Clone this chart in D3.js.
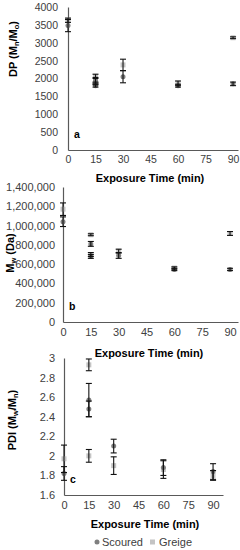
<!DOCTYPE html>
<html>
<head>
<meta charset="utf-8">
<script src="https://cdn.jsdelivr.net/npm/d3@7"></script>
<style>
  body { margin: 0; background: #fff; }
  svg { font-family: "Liberation Sans", Arial, sans-serif; }
  .tick text { fill: #404040; }
</style>
</head>
<body>
<div class="chart"></div>
<script>
// exposure times
var timeTicks = [0, 15, 30, 45, 60, 75, 90];

// panel a: DP
var dpScouredX = [0, 15, 15, 30, 60, 90];
var dpScouredY = [3480, 1950, 1800, 2050, 1800, 1850];
var dpScouredErr = [170, 80, 40, 170, 40, 50];
var dpGreigeX = [0, 15, 15, 30, 60, 90];
var dpGreigeY = [3630, 2060, 1860, 2380, 1870, 3140];
var dpGreigeErr = [60, 60, 40, 160, 60, 25];
var dpTicks = [0, 500, 1000, 1500, 2000, 2500, 3000, 3500, 4000];

// panel b: Mw
var mwScouredX = [0, 15, 15, 30, 60, 90];
var mwScouredY = [1040000, 810000, 680000, 690000, 545000, 545000];
var mwScouredErr = [50000, 25000, 20000, 30000, 12000, 12000];
var mwGreigeX = [0, 15, 15, 30, 60, 90];
var mwGreigeY = [1170000, 905000, 700000, 735000, 560000, 918000];
var mwGreigeErr = [65000, 10000, 20000, 20000, 12000, 20000];
var mwTicks = [0, 200000, 400000, 600000, 800000, 1000000, 1200000, 1400000];

// panel c: PDI
var pdiScouredX = [0, 15, 15, 30, 60, 90];
var pdiScouredY = [1.82, 2.57, 2.48, 2.10, 1.88, 1.84];
var pdiScouredErr = [0.07, 0.17, 0.08, 0.07, 0.08, 0.08];
var pdiGreigeX = [0, 15, 15, 30, 60, 90];
var pdiGreigeY = [1.97, 2.93, 2.00, 1.90, 1.86, 1.80];
var pdiGreigeErr = [0.14, 0.06, 0.065, 0.09, 0.09, 0.05];
var pdiTicks = [1.6, 1.8, 2, 2.2, 2.4, 2.6, 2.8, 3];

var svg = d3.select('.chart').append('svg')
    .attr('width', 240)
    .attr('height', 550);

function zip(xs, ys, es) {
    return xs.map(function(x, i) { return {x: x, y: ys[i], e: es[i]}; });
}

function drawPanel(p) {
    var x = d3.scaleLinear().domain([0, p.xMax]).range([p.left, p.right]);
    var y = d3.scaleLinear().domain([p.yTicks[0], p.yTicks[p.yTicks.length - 1]]).range([p.bottom, p.top]);
    var g = svg.append('g');

    g.append('g')
        .attr('transform', 'translate(0,' + p.bottom + ')')
        .call(d3.axisBottom(x).tickValues(timeTicks).tickSize(0).tickPadding(6))
        .call(function(a) {
            a.select('.domain').attr('stroke', '#595959').attr('stroke-width', 1.2);
            a.selectAll('text').attr('font-size', p.fs).attr('font-family', 'Liberation Sans');
        });

    g.append('g')
        .attr('transform', 'translate(' + p.left + ',0)')
        .call(d3.axisLeft(y).tickValues(p.yTicks).tickSize(0).tickPadding(p.pad).tickFormat(p.fmt))
        .call(function(a) {
            a.select('.domain').attr('stroke', '#595959').attr('stroke-width', 1.2);
            a.selectAll('text').attr('font-size', p.fs).attr('font-family', 'Liberation Sans');
        });

    // x title
    g.append('text')
        .attr('x', p.titleX).attr('y', p.titleY)
        .attr('text-anchor', 'middle')
        .attr('font-size', 11).attr('font-weight', 'bold')
        .text('Exposure Time (min)');

    // y title with subscripts
    var yt = g.append('text')
        .attr('transform', 'translate(' + p.yTitleX + ',' + p.yTitleY + ') rotate(-90)')
        .attr('text-anchor', 'middle')
        .attr('font-size', 11).attr('font-weight', 'bold');
    p.yTitle.forEach(function(part) {
        var ts = yt.append('tspan').text(part[0]);
        if (part[1]) ts.attr('font-size', 7.5).attr('dy', 2);
        else if (part[2]) ts.attr('dy', -2);
    });

    // panel letter
    g.append('text')
        .attr('x', p.left + 6).attr('y', p.bottom - 12)
        .attr('font-size', 10.5).attr('font-weight', 'bold')
        .text(p.letter);

    var scoured = zip(p.sx, p.sy, p.se);
    var greige = zip(p.gx, p.gy, p.ge);

    g.selectAll('.sq').data(greige).enter().append('rect')
        .attr('x', function(d) { return x(d.x) - 2.5; })
        .attr('y', function(d) { return y(d.y) - 2.5; })
        .attr('width', 5).attr('height', 5)
        .attr('fill', '#c4c4c4');

    g.selectAll('.ci').data(scoured).enter().append('circle')
        .attr('cx', function(d) { return x(d.x); })
        .attr('cy', function(d) { return y(d.y); })
        .attr('r', 2.5)
        .attr('fill', '#7f7f7f');

    var all = scoured.concat(greige);
    var bars = g.selectAll('.eb').data(all).enter().append('g')
        .attr('stroke', '#111').attr('stroke-width', 1.1);
    bars.append('line')
        .attr('x1', function(d) { return x(d.x); })
        .attr('x2', function(d) { return x(d.x); })
        .attr('y1', function(d) { return y(d.y - d.e); })
        .attr('y2', function(d) { return y(d.y + d.e); });
    [-1, 1].forEach(function(s) {
        bars.append('line')
            .attr('x1', function(d) { return x(d.x) - 3; })
            .attr('x2', function(d) { return x(d.x) + 3; })
            .attr('y1', function(d) { return y(d.y + s * d.e); })
            .attr('y2', function(d) { return y(d.y + s * d.e); });
    });
}

drawPanel({
    left: 68, right: 238, xMax: 92.7, top: 7, bottom: 150,
    yTicks: dpTicks, fmt: d3.format('d'), fs: 10.5, pad: 10,
    sx: dpScouredX, sy: dpScouredY, se: dpScouredErr,
    gx: dpGreigeX, gy: dpGreigeY, ge: dpGreigeErr,
    titleX: 150, titleY: 182, yTitleX: 17, yTitleY: 49,
    yTitle: [['DP (M'], ['n', true], ['/M', false, true], ['o', true], [')', false, true]],
    letter: 'a'
});

drawPanel({
    left: 63, right: 238, xMax: 94.3, top: 187, bottom: 322,
    yTicks: mwTicks, fmt: d3.format(','), fs: 11, pad: 8,
    sx: mwScouredX, sy: mwScouredY, se: mwScouredErr,
    gx: mwGreigeX, gy: mwGreigeY, ge: mwGreigeErr,
    titleX: 149, titleY: 357, yTitleX: 14, yTitleY: 253,
    yTitle: [['M'], ['w', true], [' (Da)', false, true]],
    letter: 'b'
});

drawPanel({
    left: 64, right: 223, xMax: 96, top: 358, bottom: 495,
    yTicks: pdiTicks, fmt: d3.format(''), fs: 11, pad: 9,
    sx: pdiScouredX, sy: pdiScouredY, se: pdiScouredErr,
    gx: pdiGreigeX, gy: pdiGreigeY, ge: pdiGreigeErr,
    titleX: 145, titleY: 528, yTitleX: 16, yTitleY: 420,
    yTitle: [['PDI (M'], ['w', true], ['/M', false, true], ['n', true], [')', false, true]],
    letter: 'c'
});

// legend
var legend = svg.append('g').attr('transform', 'translate(0,542)');
legend.append('circle').attr('cx', 97).attr('cy', 0).attr('r', 2.5).attr('fill', '#7f7f7f');
legend.append('text').attr('x', 102).attr('y', 4).attr('font-size', 11).attr('fill', '#404040').text('Scoured');
legend.append('rect').attr('x', 150).attr('y', -2.5).attr('width', 5).attr('height', 5).attr('fill', '#c4c4c4');
legend.append('text').attr('x', 159).attr('y', 4).attr('font-size', 11).attr('fill', '#404040').text('Greige');
</script>
</body>
</html>
